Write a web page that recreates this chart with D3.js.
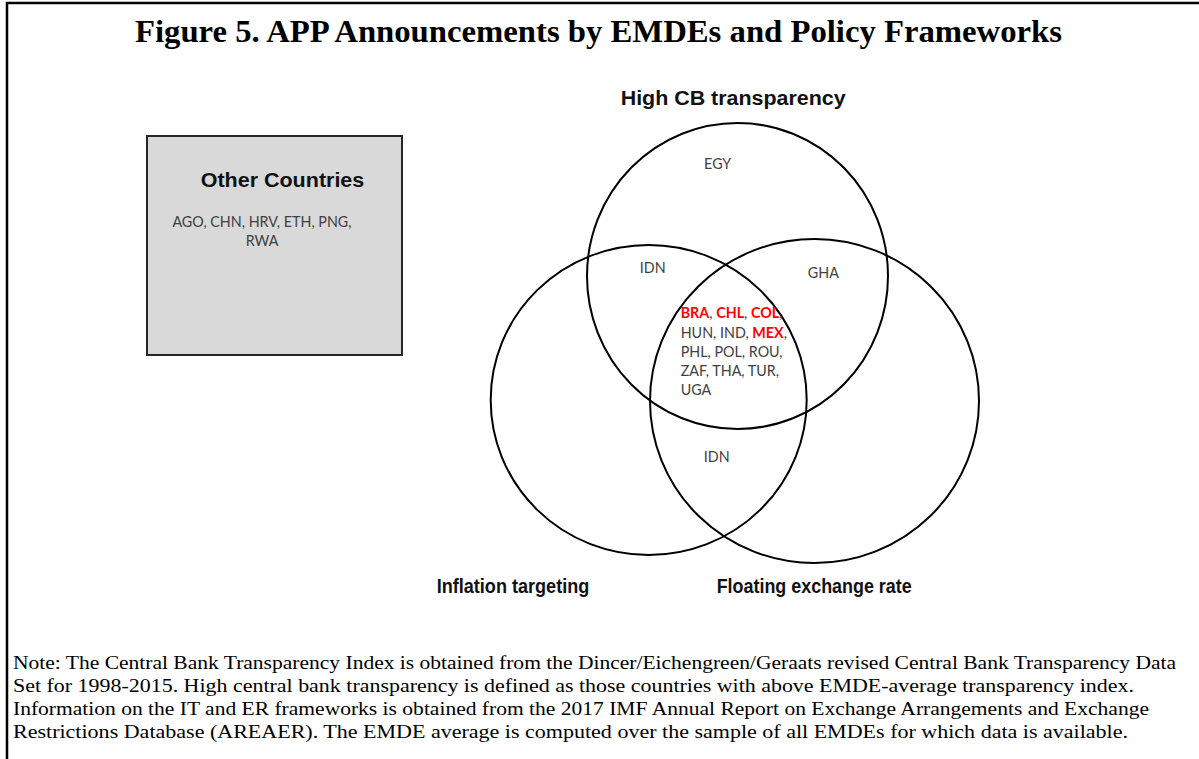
<!DOCTYPE html>
<html>
<head>
<meta charset="utf-8">
<script src="https://cdn.jsdelivr.net/npm/d3@7"></script>
<style>
  html, body { margin: 0; padding: 0; background: #fff; }
  svg { display: block; }
</style>
</head>
<body>
<svg id="chart" width="1199" height="759"></svg>
<script>
// ---------- DATA ----------
const title = "Figure 5. APP Announcements by EMDEs and Policy Frameworks";
const setNames = ["High CB transparency", "Inflation targeting", "Floating exchange rate"];
const otherTitle = "Other Countries";
const otherCountries = ["AGO", "CHN", "HRV", "ETH", "PNG", "RWA"];
const onlyCB = ["EGY"];
const cbAndIT = ["IDN"];
const cbAndFX = ["GHA"];
const itAndFX = ["IDN"];
const allThree = ["BRA", "CHL", "COL", "HUN", "IND", "MEX", "PHL", "POL", "ROU", "ZAF", "THA", "TUR", "UGA"];
const highlighted = ["BRA", "CHL", "COL", "MEX"];
const noteLines = [
  "Note: The Central Bank Transparency Index is obtained from the Dincer/Eichengreen/Geraats revised Central Bank Transparency Data",
  "Set for 1998-2015. High central bank transparency is defined as those countries with above EMDE-average transparency index.",
  "Information on the IT and ER frameworks is obtained from the 2017 IMF Annual Report on Exchange Arrangements and Exchange",
  "Restrictions Database (AREAER). The EMDE average is computed over the sample of all EMDEs for which data is available."
];

// ---------- LAYOUT ----------
const W = 1199, H = 759;
const svg = d3.select("#chart");
const countryFont = "Lato, 'Open Sans', sans-serif";
const boldFont = "'Liberation Sans', Arial, sans-serif";
const serif = "'Liberation Serif', 'Times New Roman', serif";
const grey = "#404040";

// frame
svg.append("path")
  .attr("d", `M7,${H} V3 H${W}`)
  .attr("fill", "none").attr("stroke", "#000").attr("stroke-width", 2.5);

// title (condensed like the reference)
svg.append("text")
  .attr("x", 135).attr("y", 42)
  .attr("font-family", serif).attr("font-weight", "bold").attr("font-size", 32)
  .attr("textLength", 927).attr("lengthAdjust", "spacingAndGlyphs")
  .text(title);

// other countries box
svg.append("rect")
  .attr("x", 147).attr("y", 136).attr("width", 255).attr("height", 219)
  .attr("fill", "#d9d9d9").attr("stroke", "#262626").attr("stroke-width", 2);

svg.append("text")
  .attr("x", 200.7).attr("y", 187)
  .attr("font-family", boldFont).attr("font-weight", "bold").attr("font-size", 19.5)
  .attr("textLength", 163.6).attr("lengthAdjust", "spacingAndGlyphs")
  .attr("fill", "#111").text(otherTitle);

function lineStrings(list, counts) {
  const lines = [];
  let i = 0;
  counts.forEach(c => {
    const items = list.slice(i, i + c);
    const start = i;
    i += c;
    lines.push(items.map((d, k) => ({
      code: d,
      sep: (start + k < list.length - 1) ? (k < items.length - 1 ? ", " : ",") : ""
    })));
  });
  return lines;
}

const CFS = 14.5;
const otherLines = lineStrings(otherCountries, [5, 1]);
const probe = svg.append("text").attr("font-family", countryFont).attr("font-size", CFS)
  .text(otherLines[0].map(d => d.code + d.sep).join(""));
const squeeze = 179 / probe.node().getComputedTextLength();
probe.remove();

function drawLines(lines, x, y0, dy, anchor) {
  lines.forEach((line, li) => {
    const tx = svg.append("text")
      .attr("x", x).attr("y", y0 + li * dy)
      .attr("text-anchor", anchor)
      .attr("font-family", countryFont).attr("font-size", CFS)
      .attr("fill", grey);
    line.forEach(d => {
      const hl = highlighted.includes(d.code);
      tx.append("tspan").text(d.code)
        .attr("fill", hl ? "#ff0000" : grey)
        .attr("font-weight", hl ? "bold" : "normal");
      if (d.sep) tx.append("tspan").text(d.sep);
    });
    const nat = tx.node().getComputedTextLength();
    tx.attr("textLength", (nat * squeeze).toFixed(2)).attr("lengthAdjust", "spacingAndGlyphs");
  });
}

drawLines(otherLines, 262, 227, 19.2, "middle");

// circles (Venn)
const circles = [
  { name: setNames[0], cx: 737.5, cy: 276, rx: 150.5, ry: 153 },
  { name: setNames[1], cx: 648.7, cy: 400, rx: 158, ry: 155 },
  { name: setNames[2], cx: 814.5, cy: 401, rx: 164.5, ry: 162 }
];
svg.selectAll("ellipse.set").data(circles).join("ellipse")
  .attr("class", "set")
  .attr("cx", d => d.cx).attr("cy", d => d.cy)
  .attr("rx", d => d.rx).attr("ry", d => d.ry)
  .attr("fill", "none").attr("stroke", "#000").attr("stroke-width", 2);

// set labels
const setLabels = [
  { text: setNames[0], x: 620.7, y: 105, len: 225 },
  { text: setNames[1], x: 436.7, y: 593, len: 152.6 },
  { text: setNames[2], x: 716.7, y: 593, len: 195 }
];
svg.selectAll("text.setlab").data(setLabels).join("text")
  .attr("class", "setlab")
  .attr("x", d => d.x).attr("y", d => d.y)
  .attr("font-family", boldFont).attr("font-weight", "bold").attr("font-size", 20)
  .attr("textLength", d => d.len).attr("lengthAdjust", "spacingAndGlyphs")
  .attr("fill", "#111").text(d => d.text);

// region labels
drawLines(lineStrings(onlyCB, [1]), 717.7, 169, 19.2, "middle");
drawLines(lineStrings(cbAndIT, [1]), 652.7, 273, 19.2, "middle");
drawLines(lineStrings(cbAndFX, [1]), 823.3, 278, 19.2, "middle");
drawLines(lineStrings(itAndFX, [1]), 716.7, 462, 19.2, "middle");
drawLines(lineStrings(allThree, [3, 3, 3, 3, 1]), 680.7, 318.3, 19.2, "start");

// note
const noteWidths = [1163, 1121, 1136, 1115];
svg.selectAll("text.note").data(noteLines).join("text")
  .attr("class", "note")
  .attr("x", 13).attr("y", (d, i) => 669 + i * 23)
  .attr("font-family", serif).attr("font-size", 19)
  .attr("textLength", (d, i) => noteWidths[i]).attr("lengthAdjust", "spacingAndGlyphs")
  .attr("fill", "#000").text(d => d);
</script>
</body>
</html>
